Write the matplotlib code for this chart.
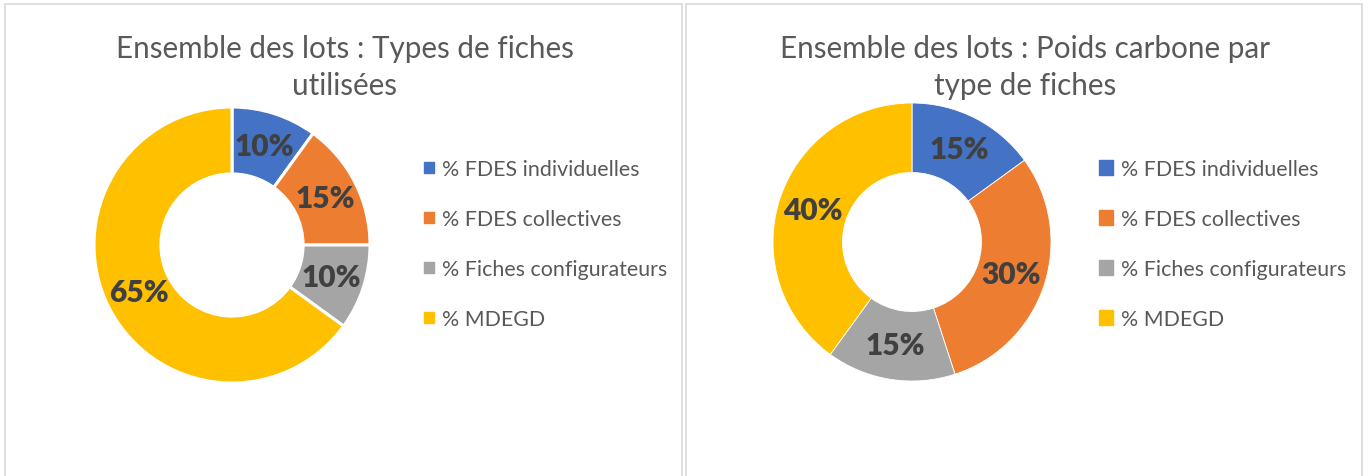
import matplotlib
matplotlib.use("Agg")
import matplotlib.pyplot as plt
from matplotlib.patches import Patch, Rectangle

plt.rcParams['font.family'] = ['Lato', 'DejaVu Sans']

categories = ["% FDES individuelles", "% FDES collectives",
              "% Fiches configurateurs", "% MDEGD"]
types_fiches = [10, 15, 10, 65]
poids_carbone = [15, 30, 15, 40]
titres = ["Ensemble des lots : Types de fiches\nutilisées",
          "Ensemble des lots : Poids carbone par\ntype de fiches"]
couleurs = ["#4472C4", "#ED7D31", "#A5A5A5", "#FFC000"]

W, H = 1369, 477
fig = plt.figure(figsize=(W / 100, H / 100), dpi=100)
fig.patch.set_facecolor("white")

# cadres des deux graphiques
for x0, x1 in [(5, 682), (686, 1362)]:
    fig.patches.append(Rectangle((x0 / W, -0.05), (x1 - x0) / W, (H - 5) / H + 0.05,
                                 transform=fig.transFigure, fill=False,
                                 edgecolor="#D9D9D9", linewidth=1.2))


def donut(valeurs, titre, cx, cy, r, width, edge_lw, title_x, leg_x, hl):
    ax = fig.add_axes([(cx - r) / W, (H - cy - r) / H, 2 * r / W, 2 * r / H])
    wedges, _, autotexts = ax.pie(valeurs, colors=couleurs, startangle=90, counterclock=False,
                                  radius=1, autopct='%.0f%%', pctdistance=1 - width / 2,
                                  wedgeprops=dict(width=width, edgecolor="white", linewidth=edge_lw))
    for t in autotexts:
        t.set_fontsize(21.5)
        t.set_fontweight("heavy")
        t.set_color("#404040")
    ax.set_xlim(-1, 1)
    ax.set_ylim(-1, 1)
    ax.axis("off")
    fig.text(title_x / W, 1 - 67.5 / H, titre, ha="center", va="center",
             fontsize=21.3, color="#595959", linespacing=1.42)
    handles = [Patch(facecolor=c, edgecolor=c) for c in couleurs]
    fig.legend(handles, categories, loc="center left",
               bbox_to_anchor=(leg_x / W, 1 - 245 / H), frameon=False,
               fontsize=15.4, labelcolor="#595959", handlelength=hl, handleheight=hl,
               handletextpad=0.4, labelspacing=1.4, borderpad=0, borderaxespad=0)


donut(types_fiches, titres[0], 232, 246, 138, 0.485, 2.2, 345, 424, 0.45)
donut(poids_carbone, titres[1], 912, 243, 139, 0.5, 0.6, 1025, 1099, 0.65)

fig.savefig("out.png", dpi=100, facecolor="white")
